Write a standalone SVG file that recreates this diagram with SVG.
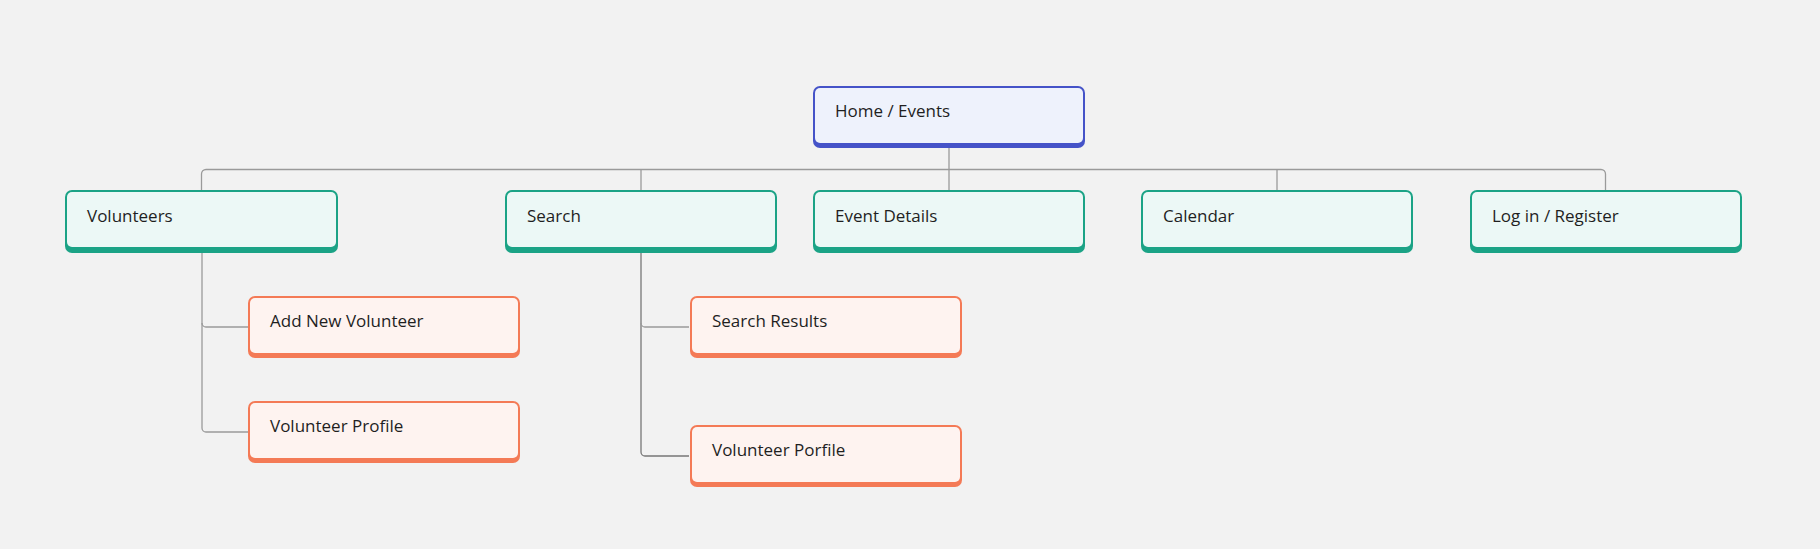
<svg xmlns="http://www.w3.org/2000/svg" width="1820" height="549" viewBox="0 0 1820 549">
<style>
.bg{fill:#f2f2f2}
.c{fill:none;stroke:#9a9a9a;stroke-width:1.3}
.cd{fill:none;stroke:#777;stroke-width:1.3}
.t{font-family:"Open Sans","Noto Sans",sans-serif;font-size:17px;fill:#1f1f1f}
.hb{fill:#4553c8}.hf{fill:#eef2fc}
.gb{fill:#1ba386}.gf{fill:#ecf8f6}
.ob{fill:#f47a56}.of{fill:#fef3f0}
</style>
<rect class="bg" x="0" y="0" width="1820" height="549"/>
<g id="connectors">
<path class="c" d="M949 148 V169.5"/>
<path class="c" d="M201.5 190 V174 a4.5 4.5 0 0 1 4.5 -4.5 H1601 a4.5 4.5 0 0 1 4.5 4.5 V190"/>
<path class="c" d="M641 169.5 V190"/>
<path class="c" d="M949 169.5 V190"/>
<path class="c" d="M1277 169.5 V190"/>
<path class="c" d="M202 253 V428 a4 4 0 0 0 4 4 H248"/>
<path class="c" d="M202 323 a4 4 0 0 0 4 4 H248"/>
<path class="cd" d="M641 253 V452 a4 4 0 0 0 4 4 H689"/>
<path class="c" d="M641 323 a4 4 0 0 0 4 4 H689"/>
</g>
<g id="home">
<rect class="hb" x="813" y="86" width="272" height="62" rx="7"/>
<rect class="hf" x="815" y="88" width="268" height="55" rx="5"/>
<text class="t" x="835" y="117">Home / Events</text>
</g>
<g id="volunteers">
<rect class="gb" x="65" y="190" width="273" height="63" rx="7"/>
<rect class="gf" x="67" y="192" width="269" height="55" rx="5"/>
<text class="t" x="87" y="222">Volunteers</text>
</g>
<g id="search">
<rect class="gb" x="505" y="190" width="272" height="63" rx="7"/>
<rect class="gf" x="507" y="192" width="268" height="55" rx="5"/>
<text class="t" x="527" y="222">Search</text>
</g>
<g id="event-details">
<rect class="gb" x="813" y="190" width="272" height="63" rx="7"/>
<rect class="gf" x="815" y="192" width="268" height="55" rx="5"/>
<text class="t" x="835" y="222">Event Details</text>
</g>
<g id="calendar">
<rect class="gb" x="1141" y="190" width="272" height="63" rx="7"/>
<rect class="gf" x="1143" y="192" width="268" height="55" rx="5"/>
<text class="t" x="1163" y="222">Calendar</text>
</g>
<g id="login">
<rect class="gb" x="1470" y="190" width="272" height="63" rx="7"/>
<rect class="gf" x="1472" y="192" width="268" height="55" rx="5"/>
<text class="t" x="1492" y="222">Log in / Register</text>
</g>
<g id="add-new-volunteer">
<rect class="ob" x="248" y="296" width="272" height="62" rx="7"/>
<rect class="of" x="250" y="298" width="268" height="55" rx="5"/>
<text class="t" x="270" y="327">Add New Volunteer</text>
</g>
<g id="volunteer-profile">
<rect class="ob" x="248" y="401" width="272" height="62" rx="7"/>
<rect class="of" x="250" y="403" width="268" height="55" rx="5"/>
<text class="t" x="270" y="432">Volunteer Profile</text>
</g>
<g id="search-results">
<rect class="ob" x="690" y="296" width="272" height="62" rx="7"/>
<rect class="of" x="692" y="298" width="268" height="55" rx="5"/>
<text class="t" x="712" y="327">Search Results</text>
</g>
<g id="volunteer-porfile">
<rect class="ob" x="690" y="425" width="272" height="62" rx="7"/>
<rect class="of" x="692" y="427" width="268" height="55" rx="5"/>
<text class="t" x="712" y="456">Volunteer Porfile</text>
</g>
</svg>
